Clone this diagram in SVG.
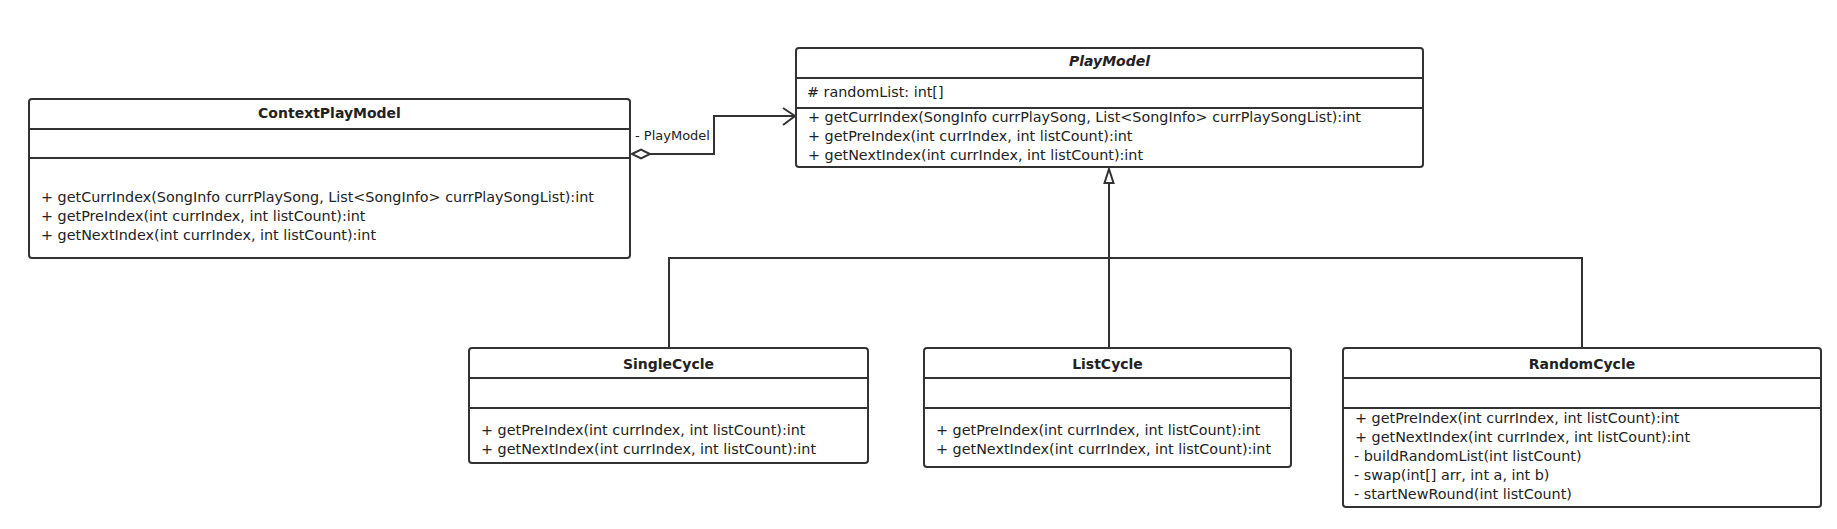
<svg xmlns="http://www.w3.org/2000/svg" width="1837" height="529" viewBox="0 0 1837 529">
<style>
.box{fill:#fff;stroke:#333;stroke-width:2}
.sep{stroke:#333;stroke-width:2}
.t{font-family:"DejaVu Sans","Liberation Sans",sans-serif;font-size:14.35px;fill:#222}
.h{font-family:"DejaVu Sans","Liberation Sans",sans-serif;font-size:14px;font-weight:bold;fill:#222;text-anchor:middle}
.lbl{font-family:"DejaVu Sans","Liberation Sans",sans-serif;font-size:13px;fill:#222}
.c{fill:none;stroke:#333;stroke-width:2}
</style>
<rect width="1837" height="529" fill="#fff"/>
<g id="connectors">
  <path class="c" d="M650,154 H714 V116 H795"/>
  <polygon points="632,154 641,149.5 650,154 641,158.5" fill="#fff" stroke="#333" stroke-width="2"/>
  <polyline class="c" points="783,108 795,116 783,125"/>
  <text class="lbl" x="635" y="140">- PlayModel</text>
  <path class="c" d="M669,348 V258 H1582 V348"/>
  <path class="c" d="M1109,348 V183"/>
  <polygon points="1109,169 1113.5,183 1104.5,183" fill="#fff" stroke="#333" stroke-width="2"/>
</g>
<g id="ContextPlayModel">
  <rect class="box" x="29" y="99" width="601" height="159" rx="3"/>
  <line class="sep" x1="29" y1="129" x2="630" y2="129"/>
  <line class="sep" x1="29" y1="158" x2="630" y2="158"/>
  <text class="h" x="329.5" y="118">ContextPlayModel</text>
  <text class="t" x="41" y="202">+ getCurrIndex(SongInfo currPlaySong, List&lt;SongInfo&gt; currPlaySongList):int</text>
  <text class="t" x="41" y="221">+ getPreIndex(int currIndex, int listCount):int</text>
  <text class="t" x="41" y="240">+ getNextIndex(int currIndex, int listCount):int</text>
</g>
<g id="PlayModel">
  <rect class="box" x="796" y="48" width="627" height="119" rx="3"/>
  <line class="sep" x1="796" y1="78" x2="1423" y2="78"/>
  <line class="sep" x1="796" y1="108" x2="1423" y2="108"/>
  <text class="h" x="1109.5" y="66" font-style="italic" font-size="13.5px">PlayModel</text>
  <text class="t" x="807" y="97"># randomList: int[]</text>
  <text class="t" x="808" y="122">+ getCurrIndex(SongInfo currPlaySong, List&lt;SongInfo&gt; currPlaySongList):int</text>
  <text class="t" x="808" y="141">+ getPreIndex(int currIndex, int listCount):int</text>
  <text class="t" x="808" y="160">+ getNextIndex(int currIndex, int listCount):int</text>
</g>
<g id="SingleCycle">
  <rect class="box" x="469" y="348" width="399" height="115" rx="3"/>
  <line class="sep" x1="469" y1="378" x2="868" y2="378"/>
  <line class="sep" x1="469" y1="408" x2="868" y2="408"/>
  <text class="h" x="668.5" y="369">SingleCycle</text>
  <text class="t" x="481" y="435">+ getPreIndex(int currIndex, int listCount):int</text>
  <text class="t" x="481" y="454">+ getNextIndex(int currIndex, int listCount):int</text>
</g>
<g id="ListCycle">
  <rect class="box" x="924" y="348" width="367" height="119" rx="3"/>
  <line class="sep" x1="924" y1="378" x2="1291" y2="378"/>
  <line class="sep" x1="924" y1="408" x2="1291" y2="408"/>
  <text class="h" x="1107.5" y="369">ListCycle</text>
  <text class="t" x="936" y="435">+ getPreIndex(int currIndex, int listCount):int</text>
  <text class="t" x="936" y="454">+ getNextIndex(int currIndex, int listCount):int</text>
</g>
<g id="RandomCycle">
  <rect class="box" x="1343" y="348" width="478" height="159" rx="3"/>
  <line class="sep" x1="1343" y1="378" x2="1821" y2="378"/>
  <line class="sep" x1="1343" y1="408" x2="1821" y2="408"/>
  <text class="h" x="1582" y="369">RandomCycle</text>
  <text class="t" x="1355" y="423">+ getPreIndex(int currIndex, int listCount):int</text>
  <text class="t" x="1355" y="442">+ getNextIndex(int currIndex, int listCount):int</text>
  <text class="t" x="1354" y="461">- buildRandomList(int listCount)</text>
  <text class="t" x="1354" y="480">- swap(int[] arr, int a, int b)</text>
  <text class="t" x="1354" y="499">- startNewRound(int listCount)</text>
</g>
</svg>
